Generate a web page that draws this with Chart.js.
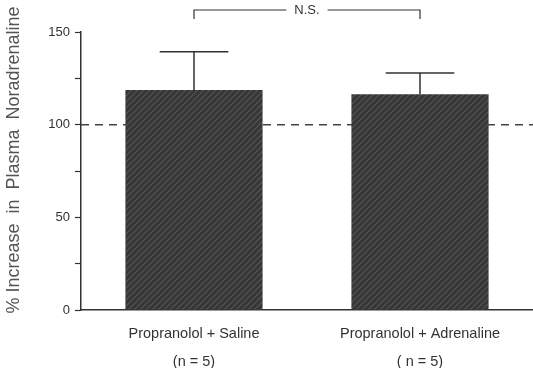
<!DOCTYPE html>
<html>
<head>
<meta charset="utf-8">
<script src="https://cdn.jsdelivr.net/npm/chart.js@4/dist/chart.umd.min.js"></script>
<style>
  html, body { margin: 0; padding: 0; background: #fff; }
  #wrap { width: 533px; height: 368px; position: relative; }
</style>
</head>
<body>
<div id="wrap"><canvas id="c" width="533" height="368"></canvas></div>
<script>
const categories = [["Propranolol + Saline", "(n = 5)"], ["Propranolol + Adrenaline", "( n = 5)"]];
const meanValues = [118.7, 116.4];
const errorUpper = [139.4, 127.9];
const yTicks = [0, 25, 50, 75, 100, 125, 150];
const yTickLabels = ["0", "", "50", "", "100", "", "150"];
const referenceLine = 100;
const yTitle = "% Increase  in  Plasma  Noradrenaline";
const significanceLabel = "N.S.";

function hatch() {
  const p = document.createElement('canvas');
  p.width = 6; p.height = 6;
  const g = p.getContext('2d');
  g.fillStyle = '#363636';
  g.fillRect(0, 0, 6, 6);
  g.strokeStyle = '#555';
  g.lineWidth = 1.2;
  g.beginPath();
  g.moveTo(-1, 7); g.lineTo(7, -1);
  g.moveTo(-4, 4); g.lineTo(4, -4);
  g.moveTo(2, 10); g.lineTo(10, 2);
  g.stroke();
  return g.createPattern(p, 'repeat');
}

const extras = {
  id: 'extras',
  beforeDatasetsDraw(chart) {
    const { ctx, chartArea, scales } = chart;
    const y = scales.y.getPixelForValue(referenceLine);
    ctx.save();
    ctx.strokeStyle = '#444';
    ctx.lineWidth = 1.5;
    ctx.setLineDash([8, 6]);
    ctx.beginPath();
    ctx.moveTo(chartArea.left, y);
    ctx.lineTo(chartArea.right, y);
    ctx.stroke();
    ctx.restore();
  },
  afterDatasetsDraw(chart) {
    const { ctx, chartArea, scales } = chart;
    const meta = chart.getDatasetMeta(0);
    ctx.save();
    ctx.strokeStyle = '#333';
    ctx.lineWidth = 1.5;
    meta.data.forEach((bar, i) => {
      const x = bar.x;
      const yTop = scales.y.getPixelForValue(errorUpper[i]);
      const half = bar.width * 0.25;
      ctx.beginPath();
      ctx.moveTo(x, bar.y);
      ctx.lineTo(x, yTop);
      ctx.moveTo(x - half, yTop);
      ctx.lineTo(x + half, yTop);
      ctx.stroke();
    });
    // significance bracket
    const x1 = meta.data[0].x, x2 = meta.data[1].x;
    const by = chartArea.top - 22;
    const mid = (x1 + x2) / 2;
    ctx.font = '13px "Liberation Sans", Arial, sans-serif';
    const tw = ctx.measureText(significanceLabel).width;
    const gap = tw / 2 + 8;
    ctx.lineWidth = 1.2;
    ctx.strokeStyle = '#333';
    ctx.beginPath();
    ctx.moveTo(x1, by + 9); ctx.lineTo(x1, by); ctx.lineTo(mid - gap, by);
    ctx.moveTo(mid + gap, by); ctx.lineTo(x2, by); ctx.lineTo(x2, by + 9);
    ctx.stroke();
    ctx.fillStyle = '#333';
    ctx.textAlign = 'center';
    ctx.textBaseline = 'middle';
    ctx.fillText(significanceLabel, mid, by);
    // y title
    ctx.translate(14, (chartArea.top + chartArea.bottom) / 2 - 11);
    ctx.rotate(-Math.PI / 2);
    ctx.font = '18px "Liberation Sans", Arial, sans-serif';
    ctx.fillStyle = '#555';
    ctx.fillText(yTitle, 0, 0);
    ctx.restore();
  }
};

new Chart(document.getElementById('c'), {
  type: 'bar',
  data: {
    labels: categories,
    datasets: [{
      data: meanValues,
      backgroundColor: hatch(),
      borderColor: '#333',
      borderWidth: 0,
      categoryPercentage: 1,
      barPercentage: 0.607
    }]
  },
  options: {
    responsive: false,
    animation: false,
    events: [],
    layout: { padding: { top: 32, right: 0, left: 0, bottom: 0 } },
    plugins: { legend: { display: false }, tooltip: { enabled: false } },
    scales: {
      x: {
        grid: { display: false, drawTicks: false },
        border: { display: true, color: '#333', width: 1.5 },
        ticks: {
          color: '#333',
          font: { family: '"Liberation Sans", Arial, sans-serif', size: 14.5, lineHeight: 1.93 },
          padding: 10,
          maxRotation: 0,
          autoSkip: false
        },
        afterFit: s => { s.height = 58; }
      },
      y: {
        min: 0,
        max: 150,
        afterBuildTicks: s => { s.ticks = yTicks.map(v => ({ value: v })); },
        grid: { drawOnChartArea: false, drawTicks: true, tickLength: 6, color: '#333', tickWidth: 1.2 },
        border: { display: true, color: '#333', width: 1.5 },
        ticks: {
          color: '#333',
          font: { family: '"Liberation Sans", Arial, sans-serif', size: 13 },
          padding: 5,
          callback: (v, i) => yTickLabels[yTicks.indexOf(v)]
        },
        afterFit: s => { s.width = 81; }
      }
    }
  },
  plugins: [extras]
});
</script>
</body>
</html>
